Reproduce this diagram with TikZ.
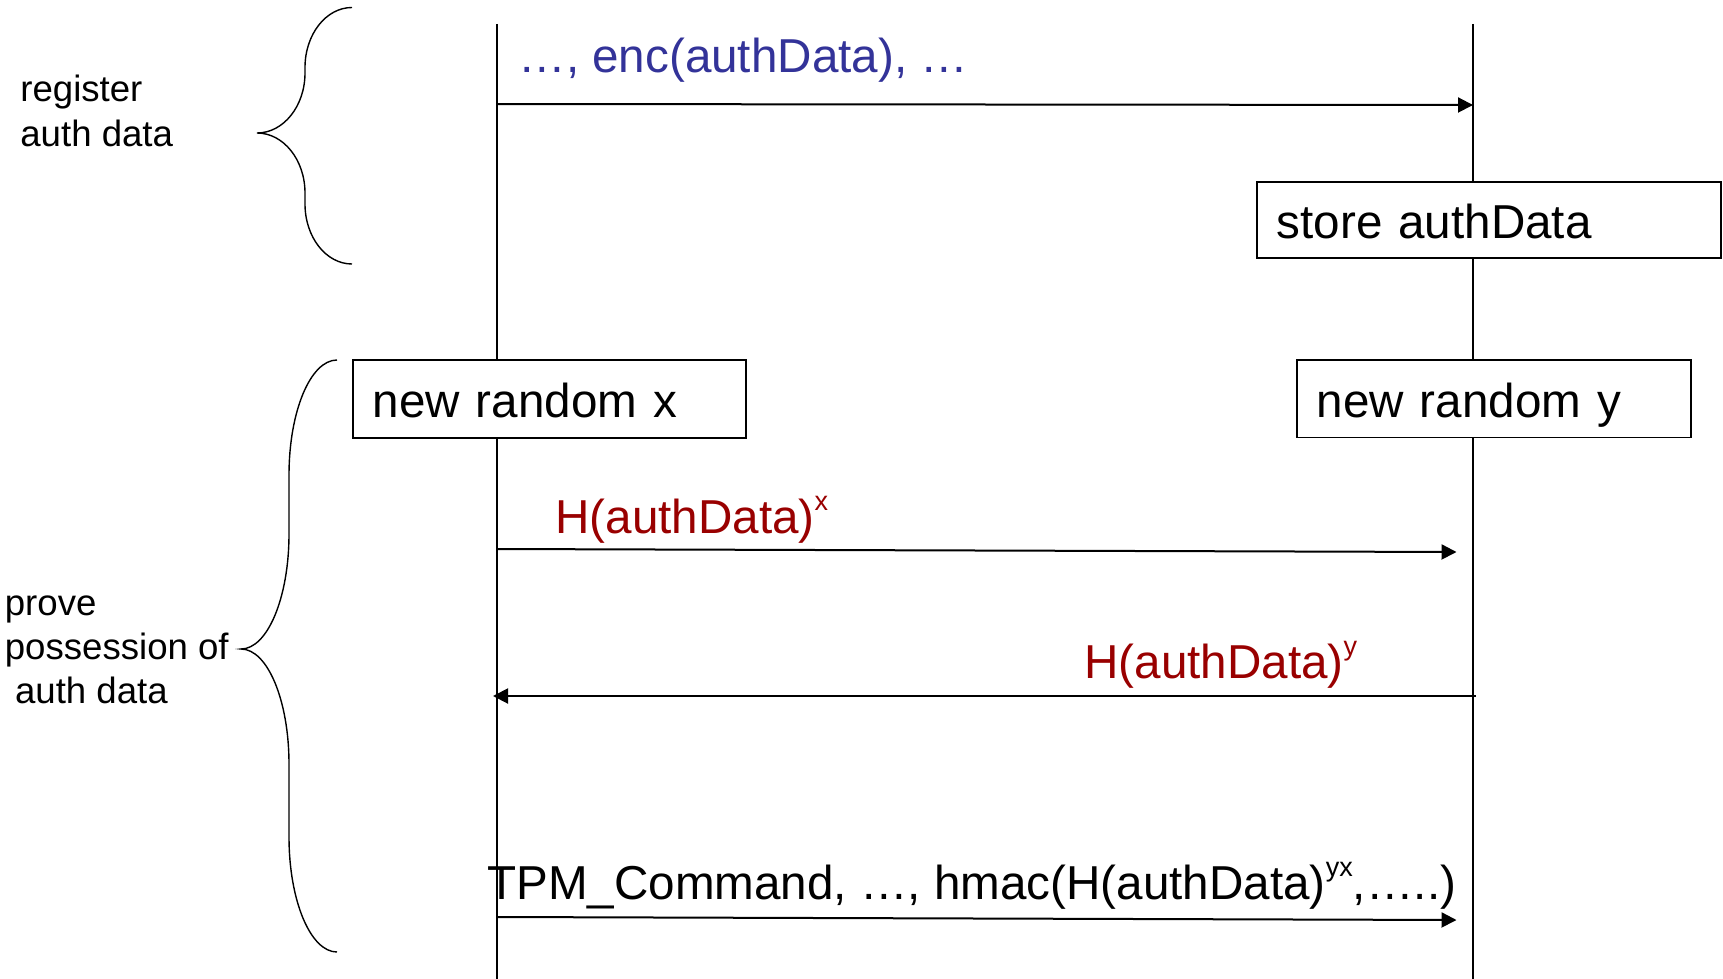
\documentclass[tikz,border=0pt]{standalone}
\usepackage{fontspec}
\setmainfont{Liberation Sans}
\usetikzlibrary{arrows.meta}
\definecolor{msgblue}{RGB}{51,51,153}
\definecolor{msgred}{RGB}{153,0,0}
% raised exponent used in the message labels
\newcommand{\expo}[1]{\raisebox{11.5pt}{\fontsize{13.5}{14}\selectfont #1}}

\begin{document}
\begin{tikzpicture}[x=0.5pt, y=-0.5pt,
  lifeline/.style={line width=0.75pt},
  msg/.style={line width=1pt, -{Triangle[length=7.5pt,width=7.5pt]}},
  actbox/.style={draw, line width=0.85pt, fill=white, inner xsep=10pt, inner ysep=0pt,
    text height=18.5pt, text depth=0pt, align=left, font=\fontsize{23.8}{28}\selectfont},
  lbl/.style={inner sep=0pt, anchor=base west, font=\fontsize{23.8}{28}\selectfont},
  side/.style={inner sep=0pt, anchor=base west, font=\fontsize{18.3}{22}\selectfont},
  brace/.style={line width=0.7pt}
]
\fill[white] (0,0) rectangle (1723,979);
\useasboundingbox (0,0) rectangle (1723,979);

% lifelines
\coordinate (hostTop) at (497,24);
\coordinate (hostBot) at (497,979);
\coordinate (tpmTop) at (1473,24);
\coordinate (tpmBot) at (1473,979);
\draw[lifeline] (hostTop) -- (hostBot);
\draw[lifeline] (tpmTop) -- (tpmBot);

% local actions
\node[actbox, minimum width=232.15pt, minimum height=38.3pt, text width=212.15pt]
  (store) at (1488.85,220) {store authData};
\node[actbox, minimum width=197.3pt, minimum height=38.65pt, text width=177.3pt]
  (randy) at (1494,398.7) {new random y};
\node[actbox, minimum width=196.65pt, minimum height=39pt, text width=176.65pt]
  (randx) at (549.35,399.2) {new random x};

% message end points
\coordinate (m1s) at (497,104);
\coordinate (m1e) at (1473,105);
\coordinate (m2s) at (497,549);
\coordinate (m2e) at (1456.5,552);
\coordinate (m3s) at (1476,696);
\coordinate (m3e) at (493,696);
\coordinate (m4s) at (497,917);
\coordinate (m4e) at (1456.5,920);

\draw[msg] (m1s) -- (m1e);
\draw[msg] (m2s) -- (m2e);
\draw[msg] (m3s) -- (m3e);
\draw[msg] (m4s) -- (m4e);

% message labels
\node[lbl, text=msgblue] (l1) at (518,73) {…, enc(authData), …};
\node[lbl, text=msgred] (l2) at (555,533) {H(authData)\expo{x}};
\node[lbl, text=msgred] (l3) at (1084,678) {H(authData)\expo{y}};
\node[lbl] (l4) at (487,899) {TPM\_Command, …, hmac(H(authData)\expo{yx},…..)};

% phase braces
\draw[brace] (352,7.5) .. controls (326,7.5) and (305,34.4) .. (305,67.5)
  -- (305,73) .. controls (305,106.1) and (283.5,133) .. (257,133)
  .. controls (283.5,133) and (305,159.9) .. (305,193)
  -- (305,204) .. controls (305,237.1) and (326,264) .. (352,264);
\draw[brace] (337,360) .. controls (310.5,360) and (289,411.5) .. (289,475)
  -- (289,534) .. controls (289,597.5) and (267.5,649) .. (241,649)
  .. controls (267.5,649) and (289,700.5) .. (289,764)
  -- (289,837) .. controls (289,900.5) and (310.5,952) .. (337,952);

% phase names
\node[side] (reg) at (20,101.7) {\vtop{\baselineskip=22.5pt\hbox{register}\hbox{auth data}}};
\node[side] (prove) at (4.5,615) {\vtop{\baselineskip=22pt\hbox{prove}\hbox{possession of}\hbox{\ auth data}}};
\end{tikzpicture}
\end{document}
